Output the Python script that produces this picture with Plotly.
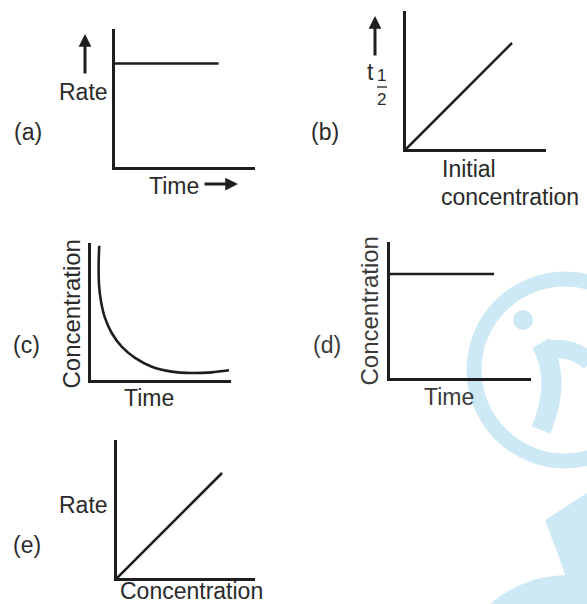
import plotly.graph_objects as go

# ---------------- data (normalised 0..1 per panel) ----------------
a_time = [0.0, 0.74]
a_rate = [0.75, 0.75]

b_init_conc = [0.0, 0.757]
b_t_half = [0.0, 0.768]

c_time = [0.062, 0.058, 0.061, 0.075, 0.103, 0.151, 0.222, 0.317, 0.436, 0.578, 0.720, 0.863, 0.986]
c_conc = [0.980, 0.840, 0.693, 0.572, 0.453, 0.343, 0.243, 0.161, 0.097, 0.061, 0.051, 0.056, 0.071]

d_time = [0.0, 0.738]
d_conc = [0.765, 0.765]

e_conc = [0.0, 0.761]
e_rate = [0.0, 0.761]

panel_labels = ["(a)", "(b)", "(c)", "(d)", "(e)"]

W, H = 587, 604
INK = "#1e1e1e"
TXT = "#2a2a2a"
FONT = "Liberation Sans, Arial, sans-serif"
FS = 23


def px(x):
    return x / W


def py(y):
    return 1 - y / H


fig = go.Figure()

# panel boxes in pixels: (left, right, top, bottom)
boxes = [
    (115, 255, 29, 167),
    (406, 546, 11, 149),
    (90.5, 231, 243, 380),
    (390, 531, 242, 378),
    (117, 255, 440, 578),
]

series = [
    (a_time, a_rate, "linear"),
    (b_init_conc, b_t_half, "linear"),
    (c_time, c_conc, "spline"),
    (d_time, d_conc, "linear"),
    (e_conc, e_rate, "linear"),
]

layout_axes = {}
for i, ((l, r, t, b), (xs, ys, shp)) in enumerate(zip(boxes, series), start=1):
    sx = "" if i == 1 else str(i)
    fig.add_trace(go.Scatter(
        x=xs, y=ys, mode="lines",
        line=dict(color=INK, width=2.6, shape=shp, smoothing=0.8),
        xaxis="x" + sx, yaxis="y" + sx, showlegend=False, hoverinfo="skip",
    ))
    common = dict(showline=True, linewidth=3, linecolor=INK, showgrid=False,
                  zeroline=False, showticklabels=False, ticks="", range=[0, 1],
                  fixedrange=True)
    layout_axes["xaxis" + sx] = dict(domain=[px(l), px(r)], anchor="y" + sx, **common)
    layout_axes["yaxis" + sx] = dict(domain=[py(b), py(t)], anchor="x" + sx, **common)

fig.update_layout(**layout_axes)

ann = []


def text(s, x, y, size=FS, xanchor="center", yanchor="middle", angle=0, color=TXT):
    ann.append(dict(text=s, x=px(x), y=py(y), xref="paper", yref="paper",
                    showarrow=False, xanchor=xanchor, yanchor=yanchor,
                    textangle=angle, font=dict(family=FONT, size=size, color=color)))


def arrow(xh, yh, ax, ay):
    ann.append(dict(text="", x=px(xh), y=py(yh), xref="paper", yref="paper",
                    ax=ax, ay=ay, axref="pixel", ayref="pixel", showarrow=True,
                    arrowhead=2, arrowsize=0.85, arrowwidth=3, arrowcolor=INK))


# panel (a)
text(panel_labels[0], 27.5, 132)
text("Rate", 83, 92)
arrow(85, 34, 0, 41)
text("Time", 173.5, 186)
arrow(238, 184, -35, 0)

# panel (b)
text(panel_labels[1], 325, 132)
arrow(375, 16, 0, 41)
text("t", 370, 72)
text("1", 381.5, 76, size=17)
text("2", 381.5, 100, size=17)
text("Initial", 440, 169, xanchor="left")
text("concentration", 439, 197, xanchor="left")

# panel (c)
text(panel_labels[2], 26, 345)
text("Concentration", 71, 314.5, size=24, angle=-90)
text("Time", 149, 398)

# panel (d)
text(panel_labels[3], 327, 345, color="#3a3a3a")
text("Concentration", 369, 311.5, size=24, angle=-90, color="#3a3a3a")
text("Time", 449, 397, color="#3a3a3a")

# panel (e)
text(panel_labels[4], 27, 545)
text("Rate", 83, 505)
text("Concentration", 118, 591, xanchor="left")

# fraction bar of t1/2 and faint watermark
WM = "#cde9f6"
shapes = [
    dict(type="line", xref="paper", yref="paper", x0=px(377), x1=px(387),
         y0=py(87), y1=py(87), line=dict(color=INK, width=1.3)),
    dict(type="circle", xref="paper", yref="paper", layer="below",
         x0=px(565 - 91), x1=px(565 + 91), y0=py(370 + 91), y1=py(370 - 91),
         line=dict(color=WM, width=15)),
    dict(type="circle", xref="paper", yref="paper", layer="below",
         x0=px(513), x1=px(533), y0=py(330), y1=py(310),
         fillcolor=WM, line=dict(width=0)),
    dict(type="path", xref="paper", yref="paper", layer="below",
         path=f"M {px(541)} {py(343)} Q {px(562)} {py(380)} {px(541)} {py(430)}",
         line=dict(color=WM, width=20)),
    dict(type="path", xref="paper", yref="paper", layer="below",
         path=f"M {px(548)} {py(350)} Q {px(570)} {py(345)} {px(590)} {py(362)}",
         line=dict(color=WM, width=18)),
    dict(type="path", xref="paper", yref="paper", layer="below",
         path=(f"M {px(545)} {py(520)} L {px(587)} {py(493)} L {px(587)} {py(604)} "
               f"L {px(575)} {py(604)} L {px(560)} {py(560)} Z"),
         fillcolor=WM, line=dict(width=0)),
    dict(type="path", xref="paper", yref="paper", layer="below",
         path=(f"M {px(490)} {py(604)} Q {px(530)} {py(570)} {px(587)} {py(576)} "
               f"L {px(587)} {py(604)} Z"),
         fillcolor=WM, line=dict(width=0)),
]

fig.update_layout(
    width=W, height=H,
    margin=dict(l=0, r=0, t=0, b=0),
    paper_bgcolor="white", plot_bgcolor="rgba(0,0,0,0)",
    annotations=ann, shapes=shapes, showlegend=False,
)

fig.write_html(
    "out.html",
    config={"displayModeBar": False},
    post_script="document.body.style.margin='0';document.body.style.overflow='hidden';",
)
